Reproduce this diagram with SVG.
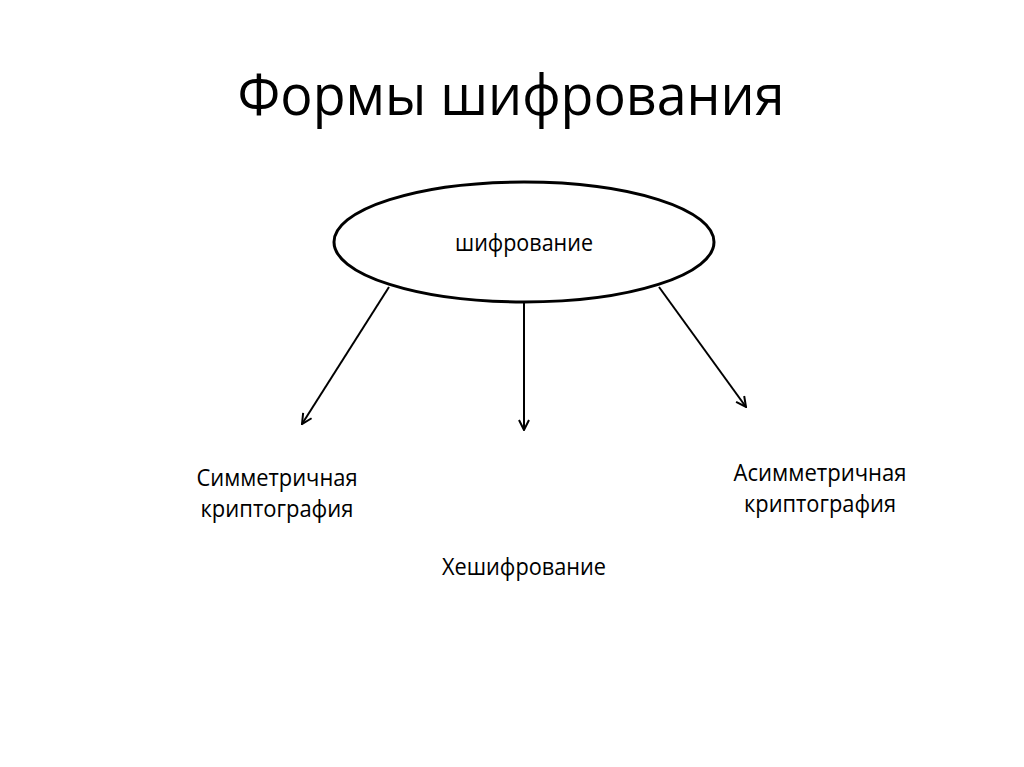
<svg xmlns="http://www.w3.org/2000/svg" width="1024" height="767" viewBox="0 0 1024 767">
<style>
text{font-family:"Open Sans","Noto Sans","Liberation Sans",sans-serif;fill:#000}
.t{font-size:57px}
.l{font-size:23px}
.c{stroke:#000;stroke-width:2;fill:none}
</style>
<defs>
<marker id="a" viewBox="0 0 12 12" refX="11" refY="6" markerWidth="12" markerHeight="12" markerUnits="userSpaceOnUse" orient="auto">
<path d="M1,1 L11,6 L1,11" fill="none" stroke="#000" stroke-width="2"/>
</marker>
</defs>
<rect width="1024" height="767" fill="#fff"/>
<text class="t" x="511" y="115" text-anchor="middle" textLength="547" lengthAdjust="spacingAndGlyphs">Формы шифрования</text>
<g id="root">
<ellipse cx="524" cy="242" rx="190" ry="60" fill="#fff" stroke="#000" stroke-width="3"/>
<text class="l" x="524" y="251" text-anchor="middle" textLength="138" lengthAdjust="spacingAndGlyphs">шифрование</text>
</g>
<g id="connectors">
<line class="c" x1="389" y1="287" x2="302" y2="424" marker-end="url(#a)"/>
<line class="c" x1="524" y1="303" x2="524" y2="430" marker-end="url(#a)"/>
<line class="c" x1="659" y1="287" x2="746" y2="407" marker-end="url(#a)"/>
</g>
<g id="sym">
<text class="l" x="277" y="486" text-anchor="middle" textLength="161" lengthAdjust="spacingAndGlyphs">Симметричная</text>
<text class="l" x="277" y="517" text-anchor="middle" textLength="153" lengthAdjust="spacingAndGlyphs">криптография</text>
</g>
<g id="asym">
<text class="l" x="820" y="481" text-anchor="middle" textLength="173" lengthAdjust="spacingAndGlyphs">Асимметричная</text>
<text class="l" x="820" y="512" text-anchor="middle" textLength="152" lengthAdjust="spacingAndGlyphs">криптография</text>
</g>
<g id="hash">
<text class="l" x="524" y="575" text-anchor="middle" textLength="164" lengthAdjust="spacingAndGlyphs">Хешифрование</text>
</g>
</svg>
